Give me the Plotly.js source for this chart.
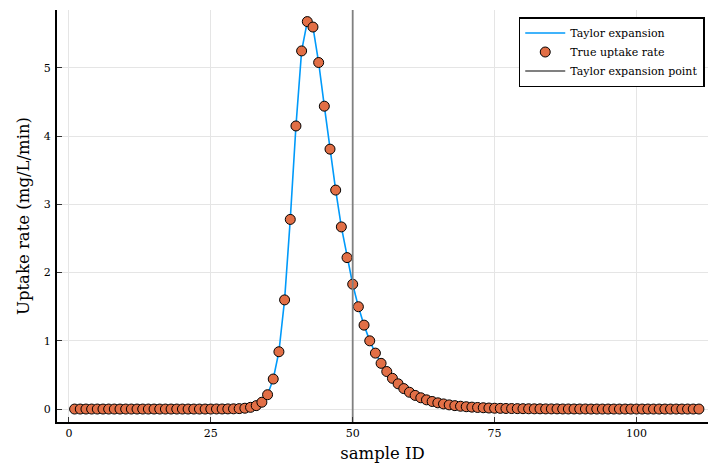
<!DOCTYPE html>
<html>
<head>
<meta charset="utf-8">
<script src="https://cdn.plot.ly/plotly-3.0.1.min.js"></script>
<style>html,body{margin:0;padding:0;background:#fff;}#chart{width:709px;height:463px;}</style>
</head>
<body>
<div id="chart"></div>
<script>
const sampleIDs = [];
for (let i = 1; i <= 111; i++) sampleIDs.push(i);

const uptakeRate = [
  0,0,0,0,0,0,0,0,0,0,
  0,0,0,0,0,0,0,0,0,0,
  0,0,0,0,0,0.001,0.001,0.002,0.003,0.006,
  0.012,0.025,0.05,0.10,0.21,0.44,0.84,1.60,2.78,4.15,
  5.25,5.68,5.60,5.08,4.44,3.81,3.21,2.67,2.22,1.83,
  1.50,1.23,1.00,0.82,0.67,0.55,0.45,0.37,0.30,0.246,
  0.20,0.165,0.135,0.111,0.091,0.075,0.061,0.050,0.041,0.034,
  0.028,0.023,0.019,0.015,0.012,0.010,0.008,0.007,0.006,0.005,
  0.004,0.003,0.003,0.002,0.002,0.002,0.001,0.001,0.001,0.001,
  0.001,0,0,0,0,0,0,0,0,0,
  0,0,0,0,0,0,0,0,0,0,
  0
];
const taylorValues = uptakeRate.slice();
const expansionPoint = 50;
const xTicks = [0, 25, 50, 75, 100];
const yTicks = [0, 1, 2, 3, 4, 5];
const xRange = [-2.1, 112.6];
const yRange = [-0.19, 5.85];

const font = "'DejaVu Serif', 'Liberation Serif', serif";

const traces = [
  {
    x: sampleIDs, y: taylorValues, type: 'scatter', mode: 'lines',
    name: 'Taylor expansion',
    line: {color: '#009AFA', width: 1.6}
  },
  {
    x: sampleIDs, y: uptakeRate, type: 'scatter', mode: 'markers',
    name: 'True uptake rate',
    marker: {color: '#E26F46', size: 10, line: {color: '#000', width: 1}}
  },
  {
    x: [expansionPoint, expansionPoint], y: yRange, type: 'scatter', mode: 'lines',
    name: 'Taylor expansion point',
    line: {color: '#808080', width: 1.8}
  }
];

const layout = {
  width: 709, height: 463,
  margin: {l: 57, r: 1, t: 10, b: 41},
  paper_bgcolor: '#fff', plot_bgcolor: '#fff',
  font: {family: font, size: 11, color: '#000'},
  showlegend: true,
  legend: {
    x: 0.995, y: 0.983, xanchor: 'right', yanchor: 'top',
    bgcolor: '#fff', bordercolor: '#000', borderwidth: 1.5,
    font: {family: font, size: 11},
    itemwidth: 40, tracegroupgap: 0
  },
  xaxis: {
    range: xRange, tickvals: xTicks, ticktext: xTicks.map(String),
    showgrid: true, gridcolor: '#e5e5e5', gridwidth: 1,
    zeroline: false, showline: true, linecolor: '#000', linewidth: 2,
    ticks: 'inside', ticklen: 5, tickcolor: '#333', tickwidth: 1,
    ticklabelstandoff: 0,
    tickfont: {family: font, size: 11},
    title: {text: 'sample ID', font: {family: font, size: 16.5}, standoff: 9}
  },
  yaxis: {
    range: yRange, tickvals: yTicks, ticktext: yTicks.map(String),
    showgrid: true, gridcolor: '#e5e5e5', gridwidth: 1,
    zeroline: false, showline: true, linecolor: '#000', linewidth: 2,
    ticks: 'inside', ticklen: 5, tickcolor: '#333', tickwidth: 1,
    ticklabelstandoff: 2,
    tickfont: {family: font, size: 11},
    title: {text: 'Uptake rate (mg/L/min)', font: {family: font, size: 16.5}, standoff: 10}
  }
};

Plotly.newPlot('chart', traces, layout, {displayModeBar: false, staticPlot: true});
</script>
</body>
</html>
